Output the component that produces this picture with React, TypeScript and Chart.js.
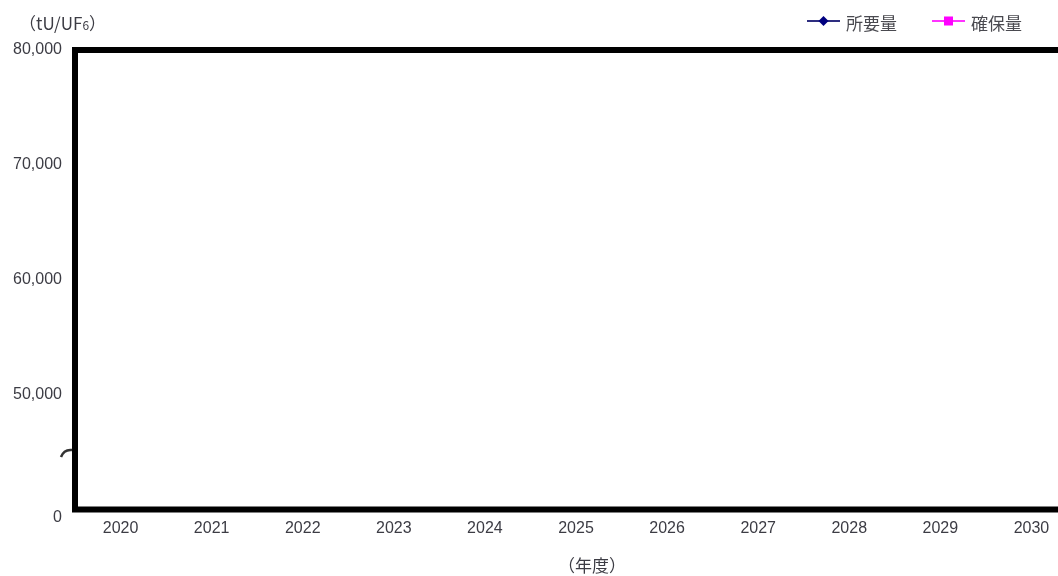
import React, { useEffect, useRef } from "react";
import { Chart, registerables } from "chart.js";

Chart.register(...registerables);

// ---- data ----
const years: string[] = ["2020", "2021", "2022", "2023", "2024", "2025", "2026", "2027", "2028", "2029", "2030"];
// No plotted values are visible in the reference (both series are blank in the shown range)
const demand: (number | null)[] = [null, null, null, null, null, null, null, null, null, null, null];
const secured: (number | null)[] = [null, null, null, null, null, null, null, null, null, null, null];
const seriesNames: string[] = ["所要量", "確保量"];
const yMin = 40000;
const yMax = 80000;
const yStep = 10000;
const yBreakValue = 45000;
const yBreakLabel = "0";
const yUnitMain = "（tU/UF";
const yUnitSub = "6";
const yUnitEnd = "）";
const xTitle = "（年度）";

const TICK_FONT = "'Liberation Sans', Arial, sans-serif";
const CJK_FONT = "'Noto Sans CJK JP', sans-serif";
const TEXT_COLOR = "#3c3c44";

const extrasPlugin = {
  id: "extras",
  afterDraw(chart: any) {
    const { ctx, chartArea } = chart;
    const { left, top, right, bottom } = chartArea;
    ctx.save();
    // thick frame
    ctx.strokeStyle = "#000";
    ctx.lineWidth = 6;
    ctx.strokeRect(left, top, right - left, bottom - top);

    // axis break mark
    const yb = chart.scales.y.getPixelForValue(yBreakValue);
    ctx.strokeStyle = "#333";
    ctx.lineWidth = 2.5;
    ctx.beginPath();
    ctx.moveTo(left - 14, yb + 5);
    ctx.quadraticCurveTo(left - 11, yb - 3, left - 3, yb - 2);
    ctx.stroke();

    // unit label
    ctx.fillStyle = TEXT_COLOR;
    ctx.textBaseline = "middle";
    ctx.textAlign = "left";
    ctx.font = `17px ${CJK_FONT}`;
    let ux = 19;
    const uy = 24;
    ctx.fillText(yUnitMain, ux, uy);
    ux += ctx.measureText(yUnitMain).width;
    ctx.font = `12px ${CJK_FONT}`;
    ctx.fillText(yUnitSub, ux, uy + 1);
    ux += ctx.measureText(yUnitSub).width;
    ctx.font = `17px ${CJK_FONT}`;
    ctx.fillText(yUnitEnd, ux, uy);

    // x title
    ctx.font = `17px ${CJK_FONT}`;
    ctx.textAlign = "center";
    ctx.fillText(xTitle, 592, 566);

    // legend
    const items = [
      { x: 807, ds: chart.data.datasets[0], style: "diamond" },
      { x: 932, ds: chart.data.datasets[1], style: "square" },
    ];
    const ly = 21;
    items.forEach((it) => {
      ctx.strokeStyle = it.ds.borderColor;
      ctx.lineWidth = 2;
      ctx.beginPath();
      ctx.moveTo(it.x, ly);
      ctx.lineTo(it.x + 33, ly);
      ctx.stroke();
      ctx.fillStyle = it.ds.pointBackgroundColor;
      const cx = it.x + 16.5;
      if (it.style === "diamond") {
        ctx.beginPath();
        ctx.moveTo(cx, ly - 5);
        ctx.lineTo(cx + 5, ly);
        ctx.lineTo(cx, ly + 5);
        ctx.lineTo(cx - 5, ly);
        ctx.closePath();
        ctx.fill();
      } else {
        ctx.fillRect(cx - 4.5, ly - 4.5, 9, 9);
      }
      ctx.fillStyle = "#4a4a50";
      ctx.font = `17px ${CJK_FONT}`;
      ctx.textAlign = "left";
      ctx.textBaseline = "middle";
      ctx.fillText(it.ds.label, it.x + 39, 24);
    });
    ctx.restore();
  },
};

export default function App() {
  const ref = useRef<HTMLCanvasElement | null>(null);
  useEffect(() => {
    if (!ref.current) return;
    const chart = new Chart(ref.current, {
      type: "line",
      data: {
        labels: years,
        datasets: [
          {
            label: seriesNames[0],
            data: demand,
            borderColor: "#2e2e80",
            backgroundColor: "#000080",
            pointBackgroundColor: "#000080",
            pointBorderColor: "#000080",
            pointStyle: "rectRot",
            pointRadius: 5,
            borderWidth: 2,
          },
          {
            label: seriesNames[1],
            data: secured,
            borderColor: "#ff33ff",
            backgroundColor: "#ff00ff",
            pointBackgroundColor: "#ff00ff",
            pointBorderColor: "#ff00ff",
            pointStyle: "rect",
            pointRadius: 5,
            borderWidth: 2,
          },
        ],
      },
      options: {
        animation: false,
        responsive: false,
        devicePixelRatio: 1,
        layout: { padding: { top: 50, right: 13, left: 0, bottom: 0 } },
        plugins: {
          legend: { display: false },
          tooltip: { enabled: false },
          title: { display: false },
        },
        scales: {
          x: {
            type: "category",
            offset: true,
            grid: { display: false, drawTicks: false },
            border: { display: false },
            ticks: {
              color: TEXT_COLOR,
              font: { family: TICK_FONT, size: 16, lineHeight: 1 },
              padding: 11,
              maxRotation: 0,
              autoSkip: false,
            },
            afterFit(scale: any) {
              scale.height = 66.5;
            },
          },
          y: {
            type: "linear",
            min: yMin,
            max: yMax,
            grid: { display: false, drawTicks: false },
            border: { display: false },
            ticks: {
              stepSize: yStep,
              color: TEXT_COLOR,
              font: { family: TICK_FONT, size: 16, lineHeight: 1 },
              padding: 13,
              callback: (v: any) => (Number(v) === yMin ? ["", yBreakLabel] : Number(v).toLocaleString("en-US")),
            },
            afterFit(scale: any) {
              scale.width = 75;
            },
          },
        },
      },
      plugins: [extrasPlugin],
    } as any);
    return () => chart.destroy();
  }, []);
  return (
    <div style={{ position: "fixed", left: 0, top: 0, width: 1058, height: 576, overflow: "hidden", background: "#fff" }}>
      <canvas ref={ref} width={1090} height={576} style={{ display: "block", width: 1090, height: 576 }} />
    </div>
  );
}
